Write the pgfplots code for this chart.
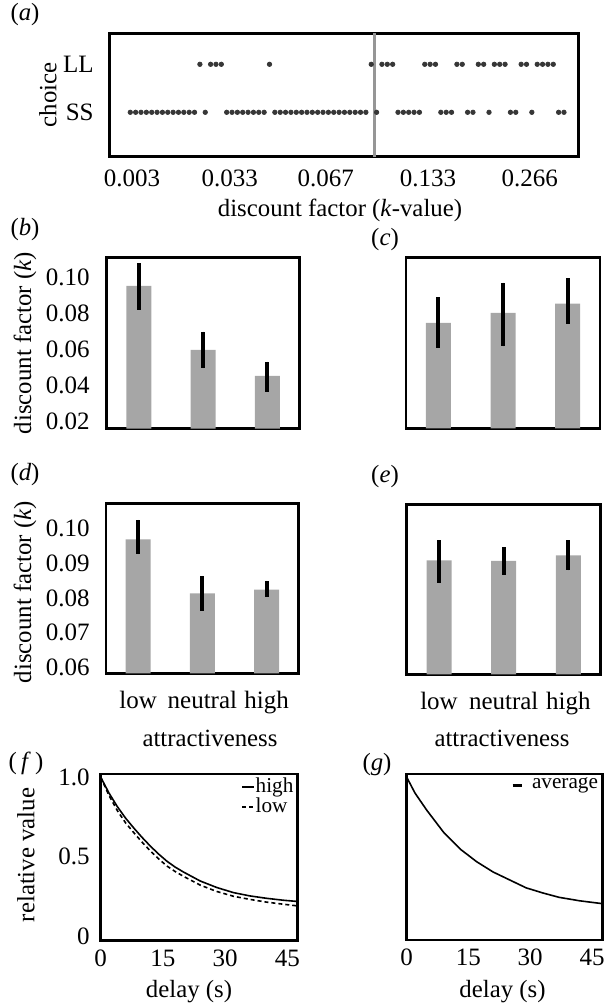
\documentclass[border=0pt]{standalone}
\usepackage{fontspec}
\setmainfont{Liberation Serif}
\usepackage{pgfplots}
\pgfplotsset{compat=1.18}
\definecolor{bargray}{RGB}{166,166,166}
\definecolor{dotgray}{RGB}{55,55,55}
\definecolor{linegray}{RGB}{150,150,150}
\newcommand{\fs}{\fontsize{12.4}{14.9}\selectfont}
\newcommand{\tfs}{\fontsize{12.5}{15}\selectfont}
\newcommand{\lfs}{\fontsize{10.6}{12.7}\selectfont}
\pgfplotsset{
  base/.style={scale only axis, anchor=north west,
    axis line style={line width=1.4pt},
    major tick length=0pt, minor tick length=0pt,
    /pgf/number format/assume math mode=true,
    tick label style={font=\tfs}, clip=true},
  barax/.style={base, xmin=-0.5, xmax=2.5, width=96.4pt, height=85.5pt},
  bars/.style={ybar, bar width=12.5pt, fill=bargray, draw=none,
    error bars/.cd, y dir=both, y explicit, error mark=none,
    error bar style={line width=2pt, black}},
}
\begin{document}
\fs
\begin{tikzpicture}
\path[use as bounding box] (0,0) rectangle (303pt,-502.5pt);

% (a)
\begin{axis}[base, at={(54.65pt,-16.65pt)}, width=234.7pt, height=61.7pt,
  xmin=-3.92, xmax=83.75, ymin=0.075, ymax=2.646,
  ytick={1,2}, yticklabels={SS,LL},
  xtick={0.3,18.6,36.5,55.6,74.6},
  xticklabels={0.003,0.033,0.067,0.133,0.266},
  yticklabel shift=3.5pt, xticklabel shift=2.2pt]
\addplot[draw=linegray, line width=1.5pt] coordinates {(45.6,0) (45.6,3)};
\addplot[only marks, mark=*, mark size=1.1pt, color=dotgray] coordinates {
(0,1)(1,1)(2,1)(3,1)(4,1)(5,1)(6,1)(7,1)(8,1)(9,1)(10,1)(11,1)(12,1)
(14,1)
(18,1)(19,1)(20,1)(21,1)(22,1)(23,1)(24,1)(25,1)
(27,1)(28,1)(29,1)(30,1)(31,1)(32,1)(33,1)(34,1)(35,1)(36,1)(37,1)(38,1)(39,1)(40,1)(41,1)(42,1)(43,1)(44,1)
(46,1)
(50,1)(51,1)(52,1)(53,1)(54,1)
(58,1)(59,1)(60,1)
(63,1)(64,1)
(67,1)
(71,1)(72,1)
(75,1)
(80,1)(81,1)};
\addplot[only marks, mark=*, mark size=1.1pt, color=dotgray] coordinates {
(13,2)(15,2)(16,2)(17,2)(26,2)(45,2)(47,2)(48,2)(49,2)
(55,2)(56,2)(57,2)(61,2)(62,2)(65,2)(66,2)(68,2)(69,2)(70,2)
(73,2)(74,2)(76,2)(77,2)(78,2)(79,2)};
\end{axis}

% (b)
\begin{axis}[barax, at={(53.35pt,-128.85pt)},
  ymin=0.016, ymax=0.1109, ytick={0.02,0.04,0.06,0.08,0.10},
  yticklabels={0.02,0.04,0.06,0.08,0.10}, xtick=\empty,
  yticklabel shift=4.2pt]
\addplot[bars] table[x=x, y=y, y error plus=ep, y error minus=em] {
x y ep em
0 0.0953 0.0125 0.0134
1 0.0597 0.0102 0.0101
2 0.0453 0.0079 0.0087
};
\end{axis}

% (c)
\begin{axis}[barax, at={(203pt,-128.65pt)}, width=97pt,
  ymin=0.016, ymax=0.1109, ytick=\empty, xtick=\empty]
\addplot[bars] table[x=x, y=y, y error plus=ep, y error minus=em] {
x y ep em
0 0.0745 0.0141 0.0139
1 0.0800 0.0169 0.0185
2 0.0852 0.0142 0.0113
};
\end{axis}

% (d)
\begin{axis}[barax, at={(53pt,-251.65pt)}, height=85pt,
  ymin=0.0583, ymax=0.1072, ytick={0.06,0.07,0.08,0.09,0.10},
  yticklabels={0.06,0.07,0.08,0.09,0.10},
  xtick={0,1,2}, xticklabels={low,neutral,high},
  yticklabel shift=3.8pt, xticklabel shift=4.5pt]
\addplot[bars] table[x=x, y=y, y error plus=ep, y error minus=em] {
x y ep em
0 0.0968 0.0056 0.0042
1 0.0813 0.0050 0.0050
2 0.0824 0.0025 0.0021
};
\end{axis}

% (e)
\begin{axis}[barax, at={(203.35pt,-252.15pt)}, width=97pt, height=85pt,
  ymin=0.0583, ymax=0.1072, ytick=\empty,
  xtick={0,1,2}, xticklabels={low,neutral,high}, xticklabel shift=4.5pt]
\addplot[bars] table[x=x, y=y, y error plus=ep, y error minus=em] {
x y ep em
0 0.0911 0.0058 0.0066
1 0.0909 0.0040 0.0041
2 0.0925 0.0043 0.0043
};
\end{axis}

% (f)
\begin{axis}[base, at={(50.35pt,-387pt)}, width=98.5pt, height=83.35pt,
  xmin=0, xmax=47.5, ymin=-0.03, ymax=1.02,
  xtick={0,15,30,45}, xticklabels={0,15,30,45},
  ytick={0,0.5,1}, yticklabels={0,0.5,1.0},
  yticklabel shift=1.2pt, xticklabel shift=0.3pt,
  legend style={draw=none, fill=none, at={(0.985,0.985)}, anchor=north east,
    font=\lfs, inner sep=0pt, row sep=-0.5pt, nodes={inner sep=0.5pt}},
  legend cell align=left,
  legend image code/.code={\draw[#1, line width=1pt] (0pt,0pt) -- (5.8pt,0pt);}]
\addplot[black, line width=0.8pt] coordinates {
(0,1)(2,0.9)(4,0.815)(6,0.742)(8,0.679)(10,0.62)(12,0.565)(14,0.515)(16,0.47)(18,0.433)(20,0.402)(24,0.346)(28,0.305)(32,0.273)(36,0.252)(40,0.237)(44,0.225)(47.5,0.217)};
\addlegendentry{high}
\addplot[black, line width=0.8pt, dash pattern=on 2pt off 1.5pt] coordinates {
(0,1)(2,0.885)(4,0.79)(6,0.712)(8,0.65)(10,0.59)(12,0.535)(14,0.485)(16,0.44)(18,0.405)(20,0.375)(24,0.32)(28,0.28)(32,0.25)(36,0.23)(40,0.213)(44,0.2)(47.5,0.189)};
\addlegendentry{low}
\end{axis}

% (g)
\begin{axis}[base, at={(203.35pt,-387pt)}, width=97.8pt, height=83pt,
  xmin=0, xmax=47.5, ymin=-0.03, ymax=1.02,
  xtick={0,15,30,45}, xticklabels={0,15,30,45},
  ytick=\empty, xticklabel shift=0.3pt,
  legend style={draw=none, fill=none, at={(0.985,0.985)}, anchor=north east,
    font=\lfs, inner sep=0pt, nodes={inner sep=0.5pt}},
  legend image code/.code={\draw[#1, line width=1.4pt] (0pt,0pt) -- (4.5pt,0pt);}]
\addplot[black, line width=0.8pt] coordinates {
(0,1)(2,0.9)(4.9,0.79)(9,0.65)(13,0.545)(17,0.465)(21,0.40)(25,0.35)(29,0.30)(33,0.268)(37,0.24)(42,0.218)(47.5,0.20)};
\addlegendentry{\hspace{4pt}average}
\end{axis}

% labels
\node at (12.5pt,-7.5pt) {(\textit{a})};
\node[rotate=90] at (24pt,-47.5pt) {choice};
\node at (170pt,-105pt) {discount factor (\textit{k}-value)};
\node at (12.5pt,-115pt) {(\textit{b})};
\node at (192.5pt,-120pt) {(\textit{c})};
\node[rotate=90] at (12.5pt,-171.5pt) {discount factor (\textit{k})};
\node at (12.5pt,-237.5pt) {(\textit{d})};
\node at (192.5pt,-238.5pt) {(\textit{e})};
\node[rotate=90] at (12.5pt,-296pt) {discount factor (\textit{k})};
\node at (105pt,-369pt) {attractiveness};
\node at (251pt,-369pt) {attractiveness};
\node at (13pt,-381.5pt) {(\,\textit{f}\,)};
\node at (188.5pt,-382.5pt) {(\textit{g})};
\node[rotate=90] at (13pt,-427.5pt) {relative value};
\node at (94.5pt,-496pt) {delay (s)};
\node at (251.25pt,-496pt) {delay (s)};
\end{tikzpicture}
\end{document}
